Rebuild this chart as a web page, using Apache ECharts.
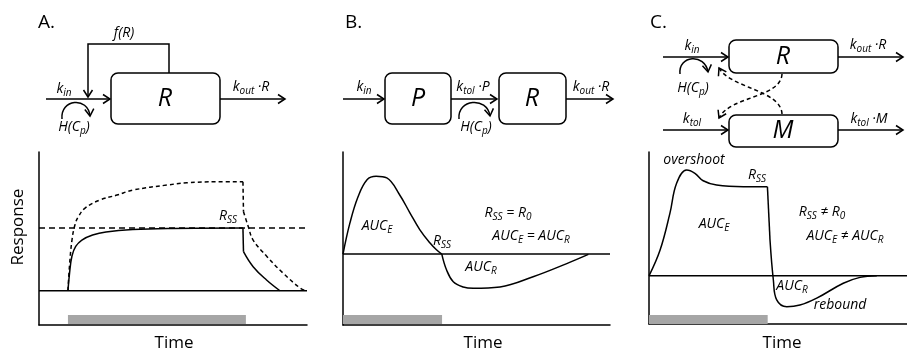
<!DOCTYPE html>
<html>
<head>
<meta charset="utf-8">
<script src="https://cdn.jsdelivr.net/npm/echarts@6/dist/echarts.min.js"></script>
<style>html,body{margin:0;padding:0;background:#fff}#c{width:907px;height:352px}</style>
</head>
<body>
<div id="c"></div>
<script>
// ---------- data (arbitrary units: time 0-100, response 0-100) ----------
const aBaseT = [0, 100];           const aBaseR = [19.8, 19.8];
const aRssT = [0, 100];            const aRssR = [56, 56];
const aSolidT = [10.8, 11.4, 12.3, 13.7, 16.0, 20.0, 25.0, 35.0, 49.6, 76.1, 76.3, 79.9, 84.9, 89.9];
const aSolidR = [19.8, 30, 39.9, 45.4, 49.1, 52, 53.8, 55.2, 55.8, 56, 42.4, 33.7, 26, 19.8];
const aDashT = [10.8, 11.4, 12.3, 13.4, 14.6, 17.2, 22.8, 29.1, 35.1, 47.8, 55.2, 66.4, 76.1, 76.3, 78.1, 79.9, 85.1, 91.0, 97.4, 99.6];
const aDashR = [19.8, 34.7, 49.1, 57.8, 62.4, 67.6, 72.3, 75.1, 78.0, 80.9, 82.2, 82.8, 82.8, 65.5, 56.8, 49.1, 39.5, 30.1, 21.4, 19.7];
const aDoseT = [10.8, 77.2];       const aDoseR = [3.2, 3.2];

const bBaseT = [0, 100];           const bBaseR = [41, 41];
const bCurveT = [0, 2.6, 5.6, 9, 12.4, 16.4, 21.3, 25, 28.8, 32.6, 35, 37, 38.8, 41.3, 45, 48.8, 58.8, 71.2, 83.8, 91.9];
const bCurveR = [41, 59, 74, 84, 86, 85, 75, 65, 55, 47.4, 43.5, 41, 31.8, 25, 22, 21.2, 22, 27.9, 35.5, 40.8];
const bDoseT = [0, 37.1];          const bDoseR = [3.2, 3.2];

const cBaseT = [0, 100];           const cBaseR = [28, 28];
const cCurveT = [0, 4.3, 8.1, 10.7, 14.6, 17.8, 21, 26.2, 36.6, 45.9, 46.9, 48.2, 49.5, 53.4, 58.5, 65, 75.3, 81.8, 88.3];
const cCurveR = [28, 43, 64.3, 81.8, 89.5, 87.6, 83.3, 80.8, 79.8, 79.8, 48.8, 25.6, 14, 10, 11, 15, 23.7, 27.1, 28];
const cDoseT = [0, 46];            const cDoseR = [2.6, 2.6];

const axisTitleX = 'Time';
const axisTitleY = 'Response';
const panelNames = ['A.', 'B.', 'C.'];

// ---------- helpers ----------
const FAM = '"Open Sans", "Liberation Sans", sans-serif';
const zip = (xs, ys) => xs.map((x, i) => [x, ys[i]]);
const mctx = document.createElement('canvas').getContext('2d');
function fontStr(size, italic) { return (italic ? 'italic ' : '') + size + 'px ' + FAM; }
function measure(t, size, italic) { mctx.font = fontStr(size, italic); return mctx.measureText(t).width; }

const G = [];
function textEl(t, x, y, size, italic, align) {
  G.push({
    type: 'text', x: x, y: y, silent: true,
    style: {
      text: t, font: fontStr(size, italic), fontSize: size, fontFamily: FAM,
      fontStyle: italic ? 'italic' : 'normal', fill: '#000',
      align: align || 'left', textAlign: align || 'left',
      verticalAlign: 'middle', textVerticalAlign: 'middle'
    }
  });
}
// parts: [[text, 'n'|'s'], ...] ; centered at cx
function label(parts, cx, cy, size, italic) {
  const ss = Math.round(size * 0.68);
  let w = 0;
  const ws = parts.map(p => { const v = measure(p[0], p[1] === 's' ? ss : size, italic); w += v; return v; });
  let x = cx - w / 2;
  parts.forEach((p, i) => {
    if (p[1] === 's') textEl(p[0], x, cy + size * 0.33, ss, italic);
    else textEl(p[0], x, cy, size, italic);
    x += ws[i];
  });
}
const LW = 1.5;
function line(x1, y1, x2, y2, dash) {
  G.push({ type: 'line', silent: true, shape: { x1, y1, x2, y2 },
    style: { stroke: '#000', lineWidth: LW, lineDash: dash || null, fill: null } });
}
function poly(pts, dash) {
  G.push({ type: 'polyline', silent: true, shape: { points: pts },
    style: { stroke: '#000', lineWidth: LW, lineDash: dash || null, fill: null } });
}
function head(tx, ty, dx, dy) {
  const l = Math.hypot(dx, dy), ux = dx / l, uy = dy / l, L = 7, W = 4.5;
  poly([[tx - ux * L - uy * W, ty - uy * L + ux * W], [tx, ty], [tx - ux * L + uy * W, ty - uy * L - ux * W]]);
}
function arrow(x1, y1, x2, y2) { line(x1, y1, x2, y2); head(x2, y2, x2 - x1, y2 - y1); }
function box(x, y, w, h) {
  G.push({ type: 'rect', silent: true, shape: { x, y, width: w, height: h, r: 7 },
    style: { stroke: '#000', lineWidth: LW, fill: '#fff' } });
}
function bez(p0, p1, p2, p3, dash, withHead) {
  G.push({ type: 'bezierCurve', silent: true,
    shape: { x1: p0[0], y1: p0[1], cpx1: p1[0], cpy1: p1[1], cpx2: p2[0], cpy2: p2[1], x2: p3[0], y2: p3[1] },
    style: { stroke: '#000', lineWidth: LW, lineDash: dash || null, fill: null } });
  if (withHead) head(p3[0], p3[1], p3[0] - p2[0], p3[1] - p2[1]);
}

const TS = 14; // italic label size
// ---------- diagram A ----------
textEl(panelNames[0], 38, 23, 19, false);
box(111, 73, 109, 51);
textEl('R', 165, 99, 25, true, 'center');
arrow(46, 99, 110, 99);
poly([[169, 73], [169, 44], [88, 44], [88, 97]]);
head(88, 97, 0, 1);
label([['f(R)', 'n']], 124, 33, TS, true);
label([['k', 'n'], ['in', 's']], 64, 89, TS, true);
bez([62, 119], [60, 99], [88, 96], [90, 116], null, true);
label([['H(C', 'n'], ['p', 's'], [')', 'n']], 74, 127, TS, true);
arrow(220, 99, 285, 99);
label([['k', 'n'], ['out', 's'], [' ·R', 'n']], 251, 87, TS, true);

// ---------- diagram B ----------
textEl(panelNames[1], 345, 23, 19, false);
box(385, 73, 66, 51);
textEl('P', 418, 99, 25, true, 'center');
box(499, 73, 67, 51);
textEl('R', 532, 99, 25, true, 'center');
arrow(343, 99, 384, 99);
arrow(451, 99, 497, 99);
arrow(566, 99, 613, 99);
label([['k', 'n'], ['in', 's']], 364, 87, TS, true);
label([['k', 'n'], ['tol', 's'], [' ·P', 'n']], 473, 87, TS, true);
label([['k', 'n'], ['out', 's'], [' ·R', 'n']], 591, 87, TS, true);
bez([459, 119], [457, 99], [487, 96], [490, 116], null, true);
label([['H(C', 'n'], ['p', 's'], [')', 'n']], 476, 127, TS, true);

// ---------- diagram C ----------
textEl(panelNames[2], 650, 23, 19, false);
box(729, 40, 109, 33);
textEl('R', 783, 57, 25, true, 'center');
box(729, 115, 109, 32);
textEl('M', 783, 131, 25, true, 'center');
arrow(663, 57, 728, 57);
arrow(663, 130, 728, 130);
arrow(838, 57, 903, 57);
arrow(838, 130, 903, 130);
label([['k', 'n'], ['in', 's']], 692, 46, TS, true);
label([['k', 'n'], ['tol', 's']], 692, 119, TS, true);
label([['k', 'n'], ['out', 's'], [' ·R', 'n']], 868, 45, TS, true);
label([['k', 'n'], ['tol', 's'], [' ·M', 'n']], 869, 119, TS, true);
bez([680, 74], [678, 55], [705, 53], [708, 72], null, true);
label([['H(C', 'n'], ['p', 's'], [')', 'n']], 693, 88, TS, true);
bez([782, 74], [781, 98], [730, 96], [719, 118], [4, 3], true);
bez([782, 114], [781, 90], [730, 88], [719, 68], [4, 3], true);

// ---------- plot annotations ----------
label([['R', 'n'], ['SS', 's']], 228, 216, TS, true);
label([['AUC', 'n'], ['E', 's']], 377, 226, TS, true);
label([['R', 'n'], ['SS', 's']], 442, 241, TS, true);
label([['R', 'n'], ['SS', 's'], [' = R', 'n'], ['0', 's']], 508, 213, TS, true);
label([['AUC', 'n'], ['E', 's'], [' = AUC', 'n'], ['R', 's']], 531, 236, TS, true);
label([['AUC', 'n'], ['R', 's']], 481, 267, TS, true);
label([['overshoot', 'n']], 694, 160, TS, true);
label([['R', 'n'], ['SS', 's']], 757, 175, TS, true);
label([['AUC', 'n'], ['E', 's']], 714, 224, TS, true);
label([['R', 'n'], ['SS', 's'], [' ≠ R', 'n'], ['0', 's']], 822, 212, TS, true);
label([['AUC', 'n'], ['E', 's'], [' ≠ AUC', 'n'], ['R', 's']], 845, 236, TS, true);
label([['AUC', 'n'], ['R', 's']], 792, 286, TS, true);
label([['rebound', 'n']], 840, 305, TS, true);
textEl(axisTitleX, 174, 343, 17, false, 'center');
textEl(axisTitleX, 483, 343, 17, false, 'center');
textEl(axisTitleX, 782, 343, 17, false, 'center');
G.push({ type: 'text', x: 18, y: 227, rotation: Math.PI / 2, silent: true,
  style: { text: axisTitleY, font: fontStr(17, false), fontSize: 17, fontFamily: FAM, fill: '#000',
    align: 'center', textAlign: 'center', verticalAlign: 'middle', textVerticalAlign: 'middle' } });

// ---------- chart ----------
const grids = [
  { left: 39, top: 152, width: 268, height: 173 },
  { left: 343, top: 152, width: 267, height: 173 },
  { left: 649, top: 152, width: 258, height: 172 }
];
const axLine = { show: true, onZero: false, lineStyle: { color: '#000', width: 1.5 } };
const xAxes = grids.map((g, i) => ({ type: 'value', gridIndex: i, min: 0, max: 100, axisLine: axLine,
  axisTick: { show: false }, axisLabel: { show: false }, splitLine: { show: false } }));
const yAxes = grids.map((g, i) => ({ type: 'value', gridIndex: i, min: 0, max: 100, axisLine: axLine,
  axisTick: { show: false }, axisLabel: { show: false }, splitLine: { show: false } }));

function ser(i, data, opt) {
  opt = opt || {};
  return {
    type: 'line', xAxisIndex: i, yAxisIndex: i, data: data, symbol: 'none',
    smooth: data.length > 2 ? (opt.smooth || false) : false,
    lineStyle: { color: opt.color || '#000', width: opt.width || 1.5, type: opt.dash || 'solid', cap: 'butt' },
    silent: true, z: opt.z || 2
  };
}
// split a curve at corner indices so the smoothing keeps sharp corners
function segs(i, xs, ys, breaks, opt) {
  const pts = zip(xs, ys), out = [];
  const b = [0].concat(breaks, [pts.length - 1]);
  for (let k = 0; k < b.length - 1; k++) out.push(ser(i, pts.slice(b[k], b[k + 1] + 1), opt));
  return out;
}
const gray = '#a6a6a6';
const series = [].concat(
  [ser(0, zip(aDoseT, aDoseR), { color: gray, width: 9 }),
   ser(0, zip(aBaseT, aBaseR)),
   ser(0, zip(aRssT, aRssR), { dash: [6, 4] })],
  segs(0, aSolidT, aSolidR, [9, 10], { smooth: 0.4 }),
  segs(0, aDashT, aDashR, [12, 13], { smooth: 0.4, dash: [4, 3] }),
  [ser(1, zip(bDoseT, bDoseR), { color: gray, width: 9 }),
   ser(1, zip(bBaseT, bBaseR))],
  segs(1, bCurveT, bCurveR, [11], { smooth: 0.4 }),
  [ser(2, zip(cDoseT, cDoseR), { color: gray, width: 9 }),
   ser(2, zip(cBaseT, cBaseR))],
  segs(2, cCurveT, cCurveR, [9, 10], { smooth: 0.4 })
);

const chart = echarts.init(document.getElementById('c'), null, { renderer: 'canvas' });
chart.setOption({
  animation: false,
  backgroundColor: '#fff',
  grid: grids,
  xAxis: xAxes,
  yAxis: yAxes,
  series: series,
  graphic: { elements: G }
});
</script>
</body>
</html>
